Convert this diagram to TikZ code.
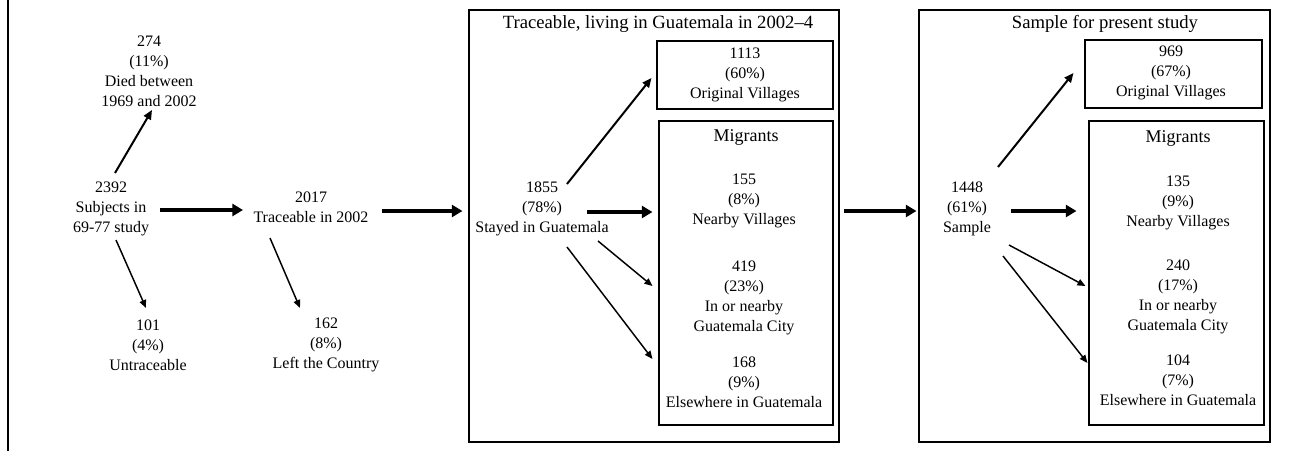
\documentclass[tikz,border=0pt]{standalone}
\usepackage{fontspec}
\setmainfont{Liberation Serif}
\usetikzlibrary{arrows.meta,calc,fit}
\begin{document}
\begin{tikzpicture}[x=0.75pt,y=-0.75pt,
    lbl/.style={align=center,inner sep=0pt,font=\fontsize{12}{15}\selectfont},
    ttl/.style={inner sep=0pt,font=\fontsize{14}{17}\selectfont},
    mig/.style={inner sep=0pt,font=\fontsize{13.5}{16}\selectfont},
    frame/.style={draw,line width=0.8pt,inner sep=0pt},
    thinarr/.style={line width=1.1pt,-{Triangle[length=6pt,width=5pt]}},
    medarr/.style={line width=1.5pt,-{Triangle[length=7pt,width=6pt]}},
    fatarr/.style={line width=3pt,-{Triangle[length=8pt,width=9pt]}}]
  \useasboundingbox (0,0) rectangle (1296,451);
  \draw[line width=1.1pt] (8,0) -- (8,451);
  % first split
  \node[lbl] (died) at (149,71) {274\\(11\%)\\Died between\\1969 and 2002};
  \node[lbl] (subj) at (111,209) {2392\\Subjects in\\69-77 study};
  \node[lbl] (untr) at (148,345) {101\\(4\%)\\Untraceable};
  \node[lbl] (trac) at (311,207) {2017\\Traceable in 2002};
  \node[lbl] (abroad) at (326,345) {162\\(8\%)\\Left the Country};
  % living in Guatemala
  \node[frame,fit={(469,10) (839,442)}] (box1) {};
  \node[ttl] (head1) at (658,24) {Traceable, living in Guatemala in 2002--4};
  \node[frame,fit={(657,41) (833,109)}] (orig1) {};
  \node[lbl] (o1) at (745,75) {1113\\(60\%)\\Original Villages};
  \node[frame,fit={(659,121) (833,425)}] (mig1) {};
  \node[mig] (mt1) at (746,137) {Migrants};
  \node[lbl] (near1) at (744,201) {155\\(8\%)\\Nearby Villages};
  \node[lbl] (city1) at (744,298) {419\\(23\%)\\In or nearby\\Guatemala City};
  \node[lbl] (else1) at (744,382) {168\\(9\%)\\Elsewhere in Guatemala};
  \node[lbl] (stay1) at (542,209) {1855\\(78\%)\\Stayed in Guatemala};
  % present sample
  \node[frame,fit={(919,10) (1270,442)}] (box2) {};
  \node[ttl] (head2) at (1105,24) {Sample for present study};
  \node[frame,fit={(1085,40) (1262,108)}] (orig2) {};
  \node[lbl] (o2) at (1171,73) {969\\(67\%)\\Original Villages};
  \node[frame,fit={(1089,121) (1264,425)}] (mig2) {};
  \node[mig] (mt2) at (1178,138) {Migrants};
  \node[lbl] (near2) at (1178,203) {135\\(9\%)\\Nearby Villages};
  \node[lbl] (city2) at (1178,297) {240\\(17\%)\\In or nearby\\Guatemala City};
  \node[lbl] (else2) at (1178,380) {104\\(7\%)\\Elsewhere in Guatemala};
  \node[lbl] (samp) at (967,209) {1448\\(61\%)\\Sample};
  % arrows
  \draw[medarr] ($(subj)+(4,-36)$) -- ($(died)+(3,39)$);
  \draw[thinarr] ($(subj)+(5,31)$) -- ($(untr)+(-2,-37)$);
  \draw[fatarr] ($(subj)+(49,1)$) -- ($(trac)+(-68,3)$);
  \draw[thinarr] ($(trac)+(-41,31)$) -- ($(abroad)+(-26,-37)$);
  \draw[fatarr] ($(trac)+(71,4)$) -- ($(box1.west)+(-6,-15)$);
  \draw[medarr] ($(stay1)+(25,-25)$) -- ($(orig1.west)+(-5,3)$);
  \draw[fatarr] ($(stay1)+(45,3)$) -- ($(mig1.west)+(-6,-61)$);
  \draw[thinarr] ($(stay1)+(56,32)$) -- ($(mig1.west)+(-6,13)$);
  \draw[thinarr] ($(stay1)+(25,38)$) -- ($(mig1.west)+(-6,86)$);
  \draw[fatarr] ($(box1.east)+(4,-15)$) -- ($(box2.west)+(-2,-15)$);
  \draw[medarr] ($(samp)+(31,-42)$) -- ($(orig2.west)+(-11,-1)$);
  \draw[fatarr] ($(samp)+(44,2)$) -- ($(mig2.west)+(-12,-62)$);
  \draw[thinarr] ($(samp)+(42,36)$) -- ($(mig2.west)+(-3,13)$);
  \draw[thinarr] ($(samp)+(36,47)$) -- ($(mig2.west)+(-1,90)$);
\end{tikzpicture}
\end{document}
